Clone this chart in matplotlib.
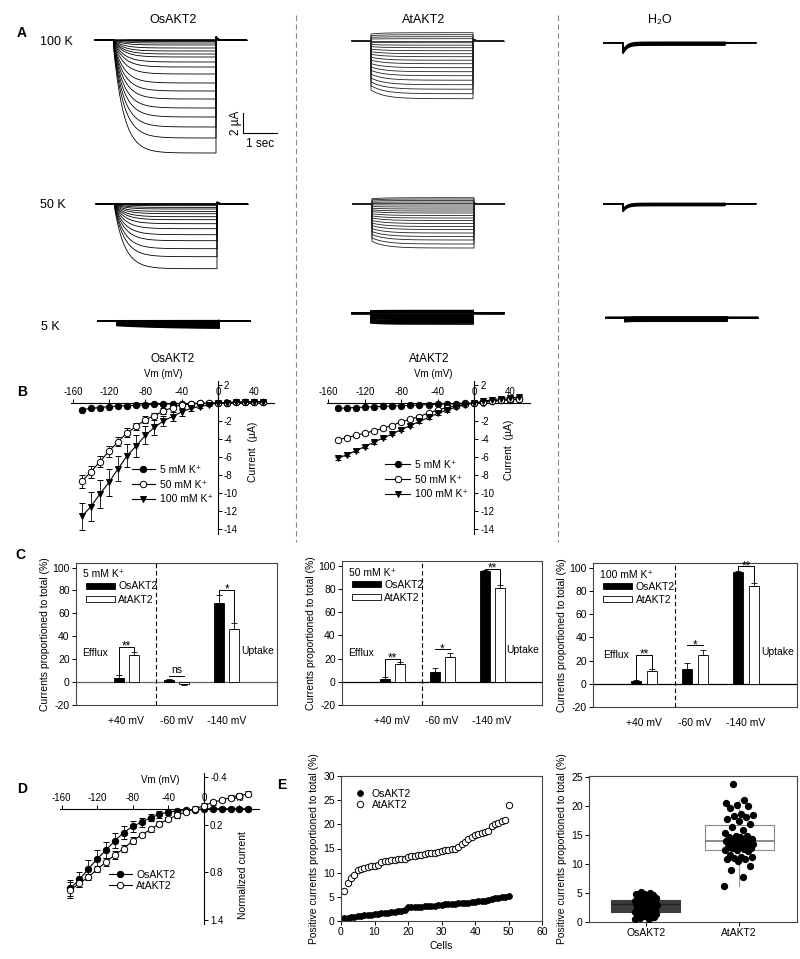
import numpy as np
import matplotlib
matplotlib.use('Agg')
import matplotlib.pyplot as plt
from matplotlib.lines import Line2D

plt.rcParams['font.family'] = ['Liberation Sans', 'DejaVu Sans']
plt.rcParams['font.size'] = 7
plt.rcParams['axes.linewidth'] = 0.8
plt.rcParams['axes.unicode_minus'] = False

W, H = 800, 959

# ---------------- data ----------------
# A: steady-state current of each sweep (uA)
os100 = [-11.3, -9.8, -8.7, -7.7, -6.8, -5.9, -5.1, -4.3, -3.4, -2.7, -2.2, -1.7,
         -1.4, -1.1, -0.8, -0.5, -0.3, -0.15, -0.05, 0.0, 0.05]
os50 = [-6.5, -5.3, -4.5, -3.7, -3.1, -2.5, -2.0, -1.6, -1.3, -1.0, -0.77, -0.53,
        -0.37, -0.2, -0.1, -0.03, 0.0, 0.03]
os5 = [-0.75, -0.68, -0.6, -0.52, -0.45, -0.38, -0.3, -0.23, -0.16, -0.1, -0.05, 0.0, 0.03]
at100 = [-5.8, -5.3, -4.85, -4.4, -3.95, -3.5, -3.1, -2.7, -2.3, -1.95, -1.6, -1.3,
         -1.0, -0.7, -0.45, -0.2, 0.0, 0.2, 0.4, 0.6, 0.8]
at50 = [-4.4, -4.0, -3.6, -3.25, -2.9, -2.55, -2.25, -1.95, -1.65, -1.4, -1.15, -0.9,
        -0.7, -0.5, -0.3, -0.1, 0.05, 0.2, 0.35, 0.5, 0.63]
at5 = [-1.07, -0.95, -0.83, -0.72, -0.6, -0.5, -0.4, -0.3, -0.2, -0.1, 0.0, 0.1, 0.2, 0.27]
h2o100 = [-0.25, -0.18, -0.12, -0.06, 0.0, 0.05]
h2o50 = [-0.2, -0.14, -0.08, -0.03, 0.0, 0.04]
h2o5 = [-0.35, -0.25, -0.15, -0.05, 0.0, 0.08]
h2o_spike = [-0.85, -0.6, -0.05]

# B: I-V curves (uA)
vm = np.arange(-150, 51, 10)
os_k5 = [-0.75, -0.6, -0.5, -0.4, -0.35, -0.3, -0.25, -0.2, -0.15, -0.12, -0.1, -0.08,
         -0.06, -0.04, -0.02, 0.0, 0.05, 0.08, 0.1, 0.12, 0.15]
os_k50 = [-8.7, -7.65, -6.5, -5.35, -4.3, -3.3, -2.6, -1.85, -1.4, -0.9, -0.5, -0.2,
          -0.1, -0.05, -0.02, 0.0, 0.05, 0.08, 0.1, 0.12, 0.15]
os_k100 = [-12.6, -11.5, -10.1, -8.8, -7.3, -5.85, -4.75, -3.6, -2.7, -2.0, -1.5, -1.0,
           -0.6, -0.4, -0.2, 0.0, 0.05, 0.08, 0.1, 0.12, 0.15]
os_k50_err = [0.7, 0.7, 0.6, 0.6, 0.5, 0.5, 0.4, 0.4, 0.3, 0.3, 0.2, 0.1,
              0.1, 0.1, 0.1, 0.1, 0.1, 0.1, 0.1, 0.1, 0.1]
os_k100_err = [1.5, 1.6, 1.6, 1.5, 1.4, 1.3, 1.2, 1.0, 0.8, 0.6, 0.5, 0.4,
               0.3, 0.2, 0.1, 0.1, 0.1, 0.1, 0.1, 0.1, 0.1]
at_k5 = [-0.6, -0.55, -0.5, -0.45, -0.42, -0.38, -0.34, -0.3, -0.26, -0.22, -0.18, -0.14,
         -0.1, -0.06, -0.03, 0.0, 0.1, 0.2, 0.3, 0.35, 0.4]
at_k50 = [-4.1, -3.85, -3.6, -3.35, -3.1, -2.8, -2.5, -2.1, -1.8, -1.5, -1.1, -0.8,
          -0.5, -0.33, -0.15, 0.0, 0.1, 0.2, 0.3, 0.4, 0.5]
at_k100 = [-6.15, -5.75, -5.3, -4.85, -4.35, -3.9, -3.45, -2.95, -2.5, -2.05, -1.6, -1.15,
           -0.8, -0.45, -0.2, 0.0, 0.2, 0.35, 0.5, 0.6, 0.65]
at_err = [0.15] * 21

# C: proportion of current (%)
c_groups = ['+40 mV', '-60 mV', '-140 mV']
c_pos = [1, 2, 3]
c5_os, c5_os_err = [4, 1.5, 69], [2, 1.5, 7]
c5_at, c5_at_err = [24, -1.5, 46], [2.5, 0.8, 5.5]
c50_os, c50_os_err = [2.5, 8, 95], [1.5, 3.5, 1.5]
c50_at, c50_at_err = [15, 21, 81], [2, 4, 2.5]
c100_os, c100_os_err = [2, 13, 96], [1.5, 4.5, 1]
c100_at, c100_at_err = [11, 25, 84], [2, 4, 2.5]
c5_sig, c5_br = ['**', 'ns', '*'], [30.7, 5.6, 80.5]
c50_sig, c50_br = ['**', '*', '**'], [20, 27.8, 97.4]
c100_sig, c100_br = ['**', '*', '**'], [25, 33, 101]

# D: normalized current
d_os = [1.0, 0.89, 0.76, 0.63, 0.52, 0.40, 0.30, 0.22, 0.17, 0.11, 0.07, 0.04,
        0.03, 0.02, 0.01, 0.0, 0.0, 0.0, 0.0, 0.0, 0.0]
d_os_err = [0.1, 0.1, 0.11, 0.11, 0.1, 0.09, 0.08, 0.07, 0.06, 0.05, 0.04, 0.04,
            0.03, 0.02, 0.02, 0.02, 0.02, 0.02, 0.02, 0.02, 0.02]
d_at = [1.02, 0.94, 0.86, 0.76, 0.67, 0.58, 0.50, 0.40, 0.33, 0.26, 0.19, 0.13,
        0.08, 0.04, 0.0, -0.04, -0.08, -0.11, -0.14, -0.16, -0.19]
d_at_err = [0.1, 0.05, 0.04, 0.04, 0.05, 0.05, 0.04, 0.04, 0.03, 0.03, 0.03, 0.03,
            0.03, 0.03, 0.03, 0.03, 0.03, 0.03, 0.03, 0.03, 0.03]

# E: positive currents proportioned to total (%), sorted per cell
cells = np.arange(1, 51)
e_os = [0.55, 0.6, 0.75, 0.9, 1.0, 1.1, 1.2, 1.25, 1.3, 1.4,
        1.5, 1.6, 1.65, 1.7, 1.8, 1.9, 2.0, 2.1, 2.3, 2.8,
        2.85, 2.9, 2.95, 3.0, 3.05, 3.1, 3.15, 3.2, 3.3, 3.4,
        3.45, 3.5, 3.55, 3.6, 3.65, 3.7, 3.75, 3.8, 3.85, 4.0,
        4.05, 4.1, 4.2, 4.3, 4.6, 4.7, 4.8, 4.9, 5.0, 5.1]
e_at = [6.2, 7.8, 8.9, 9.6, 10.5, 10.8, 10.9, 11.1, 11.3, 11.3,
        11.5, 12.2, 12.4, 12.5, 12.6, 12.7, 12.8, 12.9, 12.9, 13.2,
        13.4, 13.5, 13.6, 13.7, 13.9, 14.0, 14.0, 14.1, 14.3, 14.4,
        14.6, 14.7, 14.8, 14.9, 15.4, 15.9, 16.4, 16.9, 17.4, 17.8,
        18.1, 18.3, 18.5, 18.7, 19.6, 20.0, 20.2, 20.6, 21.0, 23.9]


def rect(x0, y0, x1, y1):
    return [x0 / W, 1 - y1 / H, (x1 - x0) / W, (y1 - y0) / H]


def fpt(x, y):
    return (x / W, 1 - y / H)


fig = plt.figure(figsize=(8, 9.59), dpi=100)

# overlay in pixel coordinates (traces, labels, separators)
ov = fig.add_axes([0, 0, 1, 1])
ov.set_xlim(0, W)
ov.set_ylim(H, 0)
ov.axis('off')


def sweep(amp, inst, tau, spike=0.0):
    t_on = np.linspace(0, 3, 150)
    i_on = amp * (inst + (1 - inst) * (1 - np.exp(-t_on / tau))) + spike * np.exp(-t_on / 0.12)
    t_off = np.linspace(3, 3.9, 40)
    i_off = -0.035 * amp * np.exp(-(t_off - 3) / 0.06)
    t = np.concatenate([[-0.56, 0], t_on, t_off])
    i = np.concatenate([[0, 0], i_on, i_off])
    return t, i


def draw_family(amps, x0, base, inst, tau, spike=0.0, col='k', lw=0.6):
    for a in amps:
        t, i = sweep(a, inst, tau, spike)
        ov.plot(x0 + t * 34, base - i * 10, color=col, lw=lw, solid_joinstyle='miter')


draw_family(os100, 114, 40, 0.1, 0.3)
draw_family(os50, 115, 203.7, 0.1, 0.3)
draw_family(os5, 117, 321, 0.6, 1.5, lw=1.2)
draw_family(at100, 371, 40.7, 0.85, 0.4, col='#222')
draw_family(at50, 372, 204, 0.85, 0.4, col='#222')
draw_family(at5, 371, 313.3, 0.9, 0.4, lw=1.2)
draw_family(h2o100, 623, 42.7, 1.0, 1.0, spike=h2o_spike[0], lw=1.0)
draw_family(h2o50, 623, 203.7, 1.0, 1.0, spike=h2o_spike[1], lw=1.0)
draw_family(h2o5, 625, 317.7, 1.0, 1.0, spike=h2o_spike[2], lw=1.2)

# scale bar
ov.plot([242.7, 242.7, 276.7], [113, 133, 133], color='k', lw=0.8)
ov.text(236, 123, '2 µA', rotation=90, ha='center', va='center', fontsize=8.5)
ov.text(260, 144, '1 sec', ha='center', va='center', fontsize=8.5)

# labels for A
ov.text(22, 33, 'A', fontsize=10, fontweight='bold', ha='center', va='center')
ov.text(173, 20, 'OsAKT2', fontsize=9, ha='center', va='center')
ov.text(424, 20, 'AtAKT2', fontsize=9, ha='center', va='center')
ov.text(660, 20, 'H₂O', fontsize=9, ha='center', va='center')
ov.text(56, 42, '100 K', fontsize=9, ha='center', va='center')
ov.text(53, 205, '50 K', fontsize=9, ha='center', va='center')
ov.text(50, 327, '5 K', fontsize=9, ha='center', va='center')

# separators
for xs in [296, 558]:
    ov.plot([xs, xs], [15, 542], color='#888', lw=0.8, ls=(0, (5, 3)))

# panel letters
ov.text(22, 392, 'B', fontsize=10, fontweight='bold', ha='center', va='center')
ov.text(20, 555, 'C', fontsize=10, fontweight='bold', ha='center', va='center')
ov.text(22, 789, 'D', fontsize=10, fontweight='bold', ha='center', va='center')
ov.text(282, 785, 'E', fontsize=10, fontweight='bold', ha='center', va='center')

# B titles
ov.text(173, 359, 'OsAKT2', fontsize=8.5, ha='center', va='center')
ov.text(163, 374, 'Vm (mV)', fontsize=7, ha='center', va='center')
ov.text(429, 359, 'AtAKT2', fontsize=8.5, ha='center', va='center')
ov.text(433, 374, 'Vm (mV)', fontsize=7, ha='center', va='center')
ov.text(253, 452, 'Current  (µA)', fontsize=7.5, rotation=90, ha='center', va='center')
ov.text(509, 450, 'Current  (µA)', fontsize=7.5, rotation=90, ha='center', va='center')
ov.text(160, 780, 'Vm (mV)', fontsize=7, ha='center', va='center')
ov.text(243, 875, 'Normalized current', fontsize=7.5, rotation=90, ha='center', va='center')


def cross_axes(ax, xt, yt):
    ax.set_facecolor('none')
    for s in ['bottom', 'left']:
        ax.spines[s].set_visible(False)
    ax.spines['top'].set_position(('data', 0))
    ax.spines['right'].set_position(('data', 0))
    ax.xaxis.set_ticks_position('top')
    ax.yaxis.set_ticks_position('right')
    ax.set_xticks(xt)
    ax.set_yticks(yt)
    ax.tick_params(length=3, width=0.7, labelsize=7, pad=1.5)


def iv_panel(r, k5, k50, k100, e50, e100, leg_xy, hl):
    ax = fig.add_axes(r)
    cross_axes(ax, [-160, -120, -80, -40, 0, 40], list(range(2, -15, -2)))
    ax.set_xlim(-162, 62)
    ax.set_ylim(-14.5, 2.5)
    kw = dict(color='k', lw=0.8, ms=4.6, mew=0.7, capsize=2, elinewidth=0.6, capthick=0.6, zorder=3)
    ax.errorbar(vm, k5, yerr=0.08, fmt='-o', mfc='k', mec='k', label='5 mM K⁺', **kw)
    ax.errorbar(vm, k50, yerr=e50, fmt='-o', mfc='w', mec='k', label='50 mM K⁺', **kw)
    ax.errorbar(vm, k100, yerr=e100, fmt='-v', mfc='k', mec='k', label='100 mM K⁺', **kw)
    hs = [Line2D([], [], color='k', lw=0.8, marker=m, mfc=f, mec='k', ms=4.6, mew=0.7)
          for m, f in [('o', 'k'), ('o', 'w'), ('v', 'k')]]
    ax.legend(hs, ['5 mM K⁺', '50 mM K⁺', '100 mM K⁺'], loc='upper left',
              bbox_to_anchor=fpt(*leg_xy), bbox_transform=fig.transFigure,
              frameon=False, fontsize=7.5, borderpad=0, borderaxespad=0,
              handlelength=hl, handletextpad=0.5, labelspacing=0.45)
    return ax


iv_panel(rect(71, 380.5, 274, 533.5), os_k5, os_k50, os_k100, os_k50_err, os_k100_err,
         (132, 465), 2.2)
iv_panel(rect(326.6, 380.5, 530.4, 533.5), at_k5, at_k50, at_k100, at_err, at_err,
         (385, 460), 2.4)


def bar_panel(r, os_v, os_e, at_v, at_e, sig, br, title, zero_col, efx):
    ax = fig.add_axes(r)
    ax.set_facecolor('none')
    x = np.array(c_pos, dtype=float)
    os_v, os_e, at_v, at_e = map(np.array, (os_v, os_e, at_v, at_e))
    ax.axhline(0, color=zero_col, lw=0.9, zorder=1)
    ax.axvline(1.6, color='k', lw=0.8, ls=(0, (4, 2.5)), zorder=1)
    ax.bar(x - 0.15, os_v, 0.2, color='k', edgecolor='k', lw=0.6, label='OsAKT2', zorder=2)
    ax.bar(x + 0.15, at_v, 0.2, color='w', edgecolor='k', lw=0.6, label='AtAKT2', zorder=2)
    for xx, v, e in [(x - 0.15, os_v, os_e), (x + 0.15, at_v, at_e)]:
        lo = np.where(v < 0, e, 0)
        hi = np.where(v < 0, 0, e)
        ax.errorbar(xx, v, yerr=[lo, hi], fmt='none', ecolor='k', elinewidth=0.6,
                    capsize=2.5, capthick=0.6, zorder=3)
    os_top = np.where(os_v > 0, os_v + os_e, 0)
    at_top = np.where(at_v > 0, at_v + at_e, 0)
    for i in range(3):
        xa, xb, h = x[i] - 0.15, x[i] + 0.15, br[i]
        if sig[i] == 'ns':
            ax.plot([xa, xb], [h, h], color='k', lw=0.7)
            ax.text((xa + xb) / 2, h + 2.5, sig[i], ha='center', va='baseline', fontsize=7.5)
        else:
            if i == 1:
                ax.plot([xa, xb], [h, h], color='k', lw=0.7)
            else:
                ax.plot([xa, xa, xb, xb], [os_top[i], h, h, at_top[i]], color='k', lw=0.7)
            ax.text((xa + xb) / 2, h - 2.5, sig[i], ha='center', va='baseline', fontsize=8.5)
    ax.set_xlim(0, 4)
    ax.set_ylim(-20, 104)
    ax.set_xticks(c_pos)
    ax.set_xticklabels(c_groups, fontsize=7.5)
    ax.set_yticks(range(-20, 101, 20))
    ax.tick_params(axis='x', length=0, pad=8)
    ax.tick_params(axis='y', length=3, width=0.7, labelsize=7.5, pad=1.5)
    for s in ax.spines.values():
        s.set_color('#444')
    ax.set_ylabel('Currents proportioned to total (%)', fontsize=7.5, labelpad=2)
    ax.text(0.14, 94, title, fontsize=7.5, va='center')
    ax.legend(loc='upper left', bbox_to_anchor=(0.05, 0.87), frameon=False, fontsize=7.5,
              borderpad=0, borderaxespad=0, handlelength=2.8, handleheight=0.5,
              handletextpad=0.3, labelspacing=0.3)
    ax.text(efx, 25, 'Efflux', fontsize=7.5, va='center')
    ax.text(3.62, 27, 'Uptake', fontsize=7.5, va='center', ha='center')
    return ax


bar_panel(rect(76, 563, 277, 705), c5_os, c5_os_err, c5_at, c5_at_err, c5_sig, c5_br,
          '5 mM K⁺', '#666', 0.12)
bar_panel(rect(342, 561, 542, 705), c50_os, c50_os_err, c50_at, c50_at_err, c50_sig, c50_br,
          '50 mM K⁺', 'k', 0.12)
bar_panel(rect(593, 563, 797, 707), c100_os, c100_os_err, c100_at, c100_at_err, c100_sig,
          c100_br, '100 mM K⁺', 'k', 0.2)

# D
axd = fig.add_axes(rect(59.8, 773, 259, 924))
cross_axes(axd, [-160, -120, -80, -40, 0, 40], [-0.4, 0.2, 0.8, 1.4])
axd.set_xlim(-162, 62)
axd.set_ylim(1.45, -0.45)
axd.yaxis.set_major_formatter(plt.FuncFormatter(lambda v, p: f'{v:.1f}'))
kw = dict(color='k', lw=0.8, ms=4.6, mew=0.7, capsize=2, elinewidth=0.6, capthick=0.6, zorder=3)
axd.errorbar(vm, d_os, yerr=d_os_err, fmt='-o', mfc='k', mec='k', **kw)
axd.errorbar(vm, d_at, yerr=d_at_err, fmt='-o', mfc='w', mec='k', **kw)
hs = [Line2D([], [], color='k', lw=0.8, marker='o', mfc=f, mec='k', ms=4.6, mew=0.7)
      for f in ['k', 'w']]
axd.legend(hs, ['OsAKT2', 'AtAKT2'], loc='upper left', bbox_to_anchor=fpt(109, 870),
           bbox_transform=fig.transFigure, frameon=False, fontsize=7.5, borderpad=0,
           borderaxespad=0, handlelength=2.2, handletextpad=0.4, labelspacing=0.1)

# E scatter
axe = fig.add_axes(rect(341, 776, 542, 921))
axe.set_facecolor('none')
axe.plot(cells, e_os, 'o', ms=4.2, mfc='k', mec='k', mew=0.6, label='OsAKT2')
axe.plot(cells, e_at, 'o', ms=4.6, mfc='w', mec='k', mew=0.7, label='AtAKT2')
axe.set_xlim(0, 60)
axe.set_ylim(0, 30)
axe.set_xticks(range(0, 61, 10))
axe.set_yticks(range(0, 31, 5))
axe.tick_params(length=3, width=0.7, labelsize=7.5, pad=1.5)
for s in axe.spines.values():
    s.set_color('#444')
axe.set_xlabel('Cells', fontsize=7.5, labelpad=3)
axe.set_ylabel('Positive currents proportioned to total (%)', fontsize=7.5, labelpad=3)
axe.legend(loc='upper left', bbox_to_anchor=(0.07, 0.91), frameon=False, fontsize=7.5,
           borderpad=0, borderaxespad=0, handlelength=1.0, handletextpad=0.6, labelspacing=0.1)

# E box plot
axb = fig.add_axes(rect(589, 776, 797, 922))
axb.set_facecolor('none')
bp = axb.boxplot([e_os, e_at], positions=[1, 2], widths=0.74, patch_artist=True,
                 showfliers=False, whis=1.5)
bp['boxes'][0].set(facecolor='#3c3c3c', edgecolor='#3c3c3c', lw=0.8)
bp['boxes'][1].set(facecolor='white', edgecolor='#888', lw=0.8)
bp['medians'][0].set(color='#222', lw=1.0)
bp['medians'][1].set(color='#777', lw=1.2)
for j, w in enumerate(bp['whiskers']):
    w.set(color='#3c3c3c' if j < 2 else '#999', lw=0.8)
for c in bp['caps']:
    c.set_visible(False)
jit = ((np.arange(50) * 0.618034) % 1 - 0.5)
axb.scatter(1 + jit * 0.24, e_os, s=18, color='k', zorder=4)
axb.scatter(2 + jit * 0.32, e_at, s=18, color='k', zorder=4)
axb.set_xlim(0.39, 2.62)
axb.set_ylim(0, 25.2)
axb.set_xticks([1, 2])
axb.set_xticklabels(['OsAKT2', 'AtAKT2'], fontsize=7.5)
axb.set_yticks(range(0, 26, 5))
axb.tick_params(length=3, width=0.7, labelsize=7.5, pad=1.5)
for s in axb.spines.values():
    s.set_color('#444')
axb.set_ylabel('Positive currents proportioned to total (%)', fontsize=7.5, labelpad=3)

fig.savefig('out.png', dpi=100)
